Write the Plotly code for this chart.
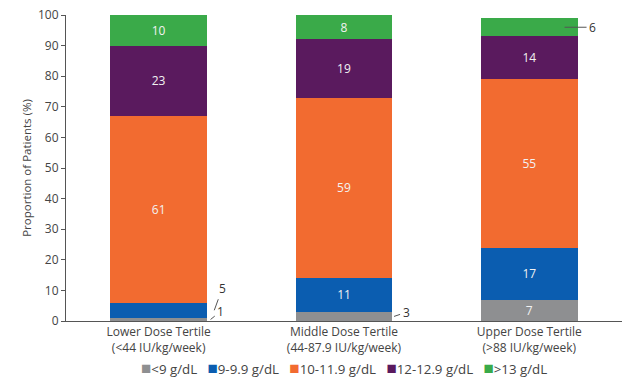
import plotly.graph_objects as go

# Dose tertiles (x categories)
categories = [
    "Lower Dose Tertile<br>(&lt;44 IU/kg/week)",
    "Middle Dose Tertile<br>(44-87.9 IU/kg/week)",
    "Upper Dose Tertile<br>(&gt;88 IU/kg/week)",
]

# Haemoglobin bands, stacked bottom to top (% of patients)
series_names = ["&lt;9 g/dL", "9-9.9 g/dL", "10-11.9 g/dL", "12-12.9 g/dL", "&gt;13 g/dL"]
hb_lt9 = [1, 3, 7]
hb_9_99 = [5, 11, 17]
hb_10_119 = [61, 59, 55]
hb_12_129 = [23, 19, 14]
hb_gt13 = [10, 8, 6]
series_values = [hb_lt9, hb_9_99, hb_10_119, hb_12_129, hb_gt13]

colors = ["#8e8f91", "#0b5db0", "#f26b30", "#5a1a5e", "#3aaa49"]

# Segments too thin for an inside label get a callout instead
callouts = {  # (series index, category index): (x shift, ax, ay)
    (1, 0): (0.30, 8, -22),
    (0, 0): (0.28, 10, -8),
    (0, 1): (0.27, 12, -4),
    (4, 2): (0.19, 28, 0),
}

FONT = "Open Sans"
TXT = "#444444"
BAR_W = 0.52

fig = go.Figure()
for si, (name, vals, col) in enumerate(zip(series_names, series_values, colors)):
    labels = ["" if (si, ci) in callouts else str(v) for ci, v in enumerate(vals)]
    fig.add_trace(go.Bar(
        name=name, x=[0, 1, 2], y=vals, width=BAR_W,
        marker=dict(color=col, line=dict(width=0)),
        text=labels, textposition="inside", insidetextanchor="middle",
        textangle=0, constraintext="none",
        textfont=dict(family=FONT, size=12, color="#f2f2f2"),
        hoverinfo="skip", showlegend=False,
    ))

annotations = []
for (si, ci), (dx, ax, ay) in callouts.items():
    base = sum(series_values[k][ci] for k in range(si))
    v = series_values[si][ci]
    annotations.append(dict(
        x=ci + dx, y=base + v / 2, xref="x", yref="y",
        text=str(v), showarrow=True, arrowhead=0, arrowwidth=1,
        arrowcolor="#555555", ax=ax, ay=ay, standoff=0, startstandoff=1,
        font=dict(family=FONT, size=12, color="#333333"),
    ))

# Compact key: coloured squares followed by the band names, on one line
key_parts = [
    f'<span style="color:{c};font-size:17px">■</span>{n}'
    for n, c in zip(series_names, colors)
]
annotations.append(dict(
    x=0.5, y=-0.151, xref="paper", yref="paper", yanchor="middle",
    xanchor="center", showarrow=False,
    text="&#160;&#160;&#160;".join(key_parts),
    font=dict(family=FONT, size=13.3, color=TXT),
))

fig.update_layout(
    width=625, height=378,
    margin=dict(l=66, r=3, t=15, b=57),
    paper_bgcolor="white", plot_bgcolor="white",
    barmode="stack",
    font=dict(family=FONT, size=12, color=TXT),
    showlegend=False,
    annotations=annotations,
)

fig.update_xaxes(
    range=[-0.5, 2.5], tickmode="array", tickvals=[0, 1, 2], ticktext=categories,
    showline=True, linecolor="#555555", linewidth=1, ticks="",
    showgrid=False, zeroline=False, fixedrange=True, automargin=False,
    tickfont=dict(family=FONT, size=12, color=TXT),
)
fig.update_yaxes(
    range=[0, 100], tick0=0, dtick=10,
    showline=True, linecolor="#555555", linewidth=1,
    ticks="outside", ticklen=4, tickcolor="#555555",
    showgrid=False, zeroline=False, automargin=False,
    title=dict(text="Proportion of Patients (%)", standoff=3,
               font=dict(family=FONT, size=11.5, color=TXT)),
    tickfont=dict(family=FONT, size=12, color=TXT),
)

fig.write_html("out.html")
